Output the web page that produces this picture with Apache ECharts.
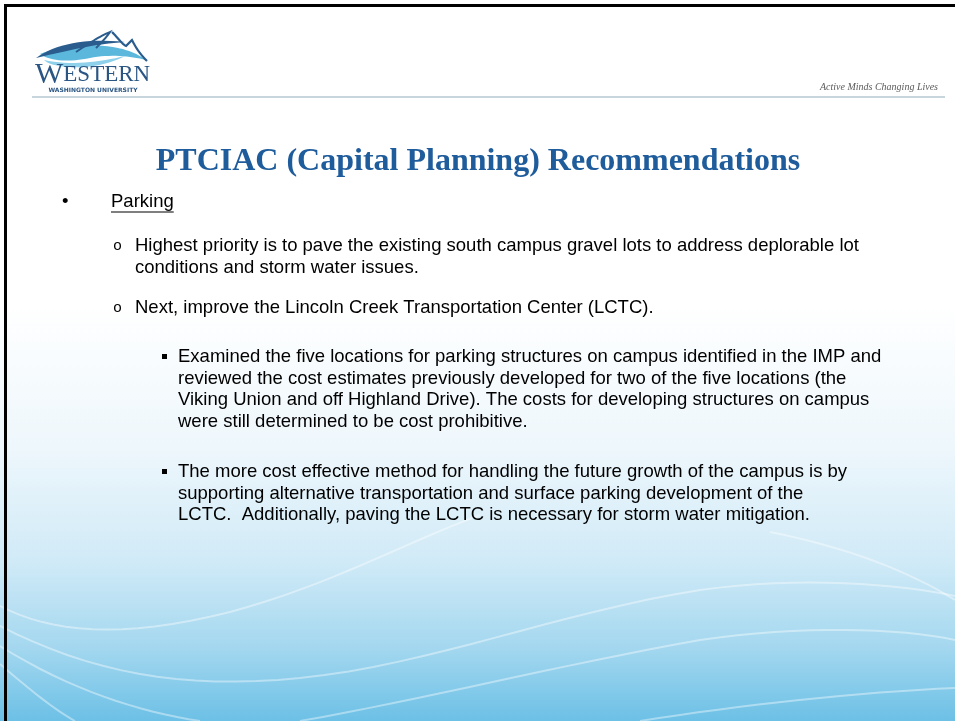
<!DOCTYPE html>
<html>
<head>
<meta charset="utf-8">
<script src="https://cdn.jsdelivr.net/npm/echarts@6/dist/echarts.min.js"></script>
<style>
html,body{margin:0;padding:0;background:#fff;}
#main{width:955px;height:721px;}
</style>
</head>
<body>
<div id="main"></div>
<script>
// ---- content ----
const logoWord = ['W', 'ESTERN'];
const logoSub = 'WASHINGTON UNIVERSITY';
const tagline = 'Active Minds Changing Lives';
const titleText = 'PTCIAC (Capital Planning) Recommendations';
const level1Items = ['Parking'];
const level2Items = [
  ['Highest priority is to pave the existing south campus gravel lots to address deplorable lot',
   'conditions and storm water issues.'],
  ['Next, improve the Lincoln Creek Transportation Center (LCTC).']
];
const level3Items = [
  ['Examined the five locations for parking structures on campus identified in the IMP and',
   'reviewed the cost estimates previously developed for two of the five locations (the',
   'Viking Union and off Highland Drive). The costs for developing structures on campus',
   'were still determined to be cost prohibitive.'],
  ['The more cost effective method for handling the future growth of the campus is by',
   'supporting alternative transportation and surface parking development of the',
   'LCTC.  Additionally, paving the LCTC is necessary for storm water mitigation.']
];

// ---- layout / style ----
const W = 955, H = 721;
const bodyFont = '18.5px "Liberation Sans", Arial, sans-serif';
const lineH = 21.5;
const els = [];

// sample a simple "M x y C ... " path into points
function samplePath(str, dx, dy) {
  dx = dx || 0; dy = dy || 0;
  const nums = str.replace(/[MCZ]/g, ' ').trim().split(/[\s,]+/).map(Number);
  const pts = [[nums[0] + dx, nums[1] + dy]];
  let cx = nums[0], cy = nums[1];
  for (let k = 2; k + 5 < nums.length; k += 6) {
    const [a, b, c, d, e, f] = nums.slice(k, k + 6);
    for (let s = 1; s <= 16; s++) {
      const t = s / 16, u = 1 - t;
      pts.push([u*u*u*cx + 3*u*u*t*a + 3*u*t*t*c + t*t*t*e + dx,
                u*u*u*cy + 3*u*u*t*b + 3*u*t*t*d + t*t*t*f + dy]);
    }
    cx = e; cy = f;
  }
  return pts;
}
function textWidth(t, font) {
  const c = document.createElement('canvas').getContext('2d');
  c.font = font; return c.measureText(t).width;
}

// background
els.push({type:'rect', shape:{x:0,y:0,width:W,height:H}, z:0,
  style:{fill:new echarts.graphic.LinearGradient(0,0,0,1,[
    {offset:0,color:'#ffffff'},
    {offset:0.42,color:'#ffffff'},
    {offset:0.62,color:'#eef7fc'},
    {offset:0.78,color:'#d0eaf7'},
    {offset:0.90,color:'#a3d7ef'},
    {offset:1,color:'#6cc0e6'}])}});

// waves
const waves = [
  'M0 606 C 50 632, 120 640, 230 612 C 330 585, 400 545, 480 515',
  'M770 532 C 850 548, 910 572, 955 600',
  'M0 626 C 90 672, 180 690, 300 678 C 430 665, 560 612, 700 590 C 800 576, 900 584, 955 596',
  'M0 646 C 70 690, 140 712, 200 721',
  'M0 664 C 30 690, 55 710, 75 721',
  'M640 721 C 740 705, 860 692, 955 688',
  'M300 721 C 420 700, 560 665, 700 640 C 800 625, 900 628, 955 640'
];
waves.forEach(p => els.push({type:'polyline', z:1, shape:{points:samplePath(p)},
  style:{fill:null, stroke:'rgba(255,255,255,0.4)', lineWidth:2}}));

// frame
els.push({type:'line', z:5, shape:{x1:4,y1:5.5,x2:W,y2:5.5}, style:{stroke:'#000',lineWidth:3}});
els.push({type:'line', z:5, shape:{x1:5.5,y1:4,x2:5.5,y2:H}, style:{stroke:'#000',lineWidth:3}});

// header rule
els.push({type:'line', z:3, shape:{x1:32,y1:97,x2:945,y2:97},
  style:{stroke:'#c8d5dd', lineWidth:2}});

// logo graphics (shifted down)
const ldy = 4;
els.push({type:'polygon', z:3, shape:{points:samplePath('M40 50 C 60 42, 90 38, 118 44 C 128 46, 138 50, 146 56 C 130 52, 110 50, 90 54 C 70 58, 52 58, 40 50', 0, ldy)},
  style:{fill:'#5bb8dc'}});
els.push({type:'polygon', z:3, shape:{points:samplePath('M44 56 C 70 62, 100 58, 125 52 C 110 60, 85 66, 60 62 C 52 61, 47 59, 44 56', 0, ldy)},
  style:{fill:'#8fd0ea'}});
els.push({type:'polygon', z:4, shape:{points:samplePath('M36 54 C 55 40, 85 34, 125 38 C 95 40, 70 46, 36 54', 0, ldy)},
  style:{fill:'#2a5d8e'}});
els.push({type:'polyline', z:4, shape:{points:samplePath('M76 48 C 88 40, 100 32, 110 28 C 106 34, 100 40, 96 44', 0, ldy)},
  style:{fill:null, stroke:'#2a5d8e', lineWidth:2}});
els.push({type:'polyline', z:4, shape:{points:samplePath('M112 28 C 118 34, 122 40, 126 42 C 128 40, 130 38, 132 36 C 136 44, 140 50, 147 57', 0, ldy)},
  style:{fill:null, stroke:'#2a5d8e', lineWidth:2.2}});

els.push({type:'text', z:4, style:{
  text:'{a|' + logoWord[0] + '}{b|' + logoWord[1] + '}',
  x:35, y:90, textAlign:'left', textVerticalAlign:'bottom',
  rich:{a:{font:'30px "Liberation Serif", serif', fill:'#2b5684'},
        b:{font:'23px "Liberation Serif", serif', fill:'#2b5684'}}}});
els.push({type:'text', z:4, style:{text:logoSub, x:93, y:90, textAlign:'center', textVerticalAlign:'middle',
  font:'bold 6px "DejaVu Sans", sans-serif', fill:'#2b5684'}});

// tagline
els.push({type:'text', z:4, style:{text:tagline, x:938, y:87, textAlign:'right', textVerticalAlign:'middle',
  font:'italic 10px "Liberation Serif", serif', fill:'#5a5a5a'}});

// title
els.push({type:'text', z:4, style:{text:titleText, x:478, y:162, textAlign:'center', textVerticalAlign:'middle',
  font:'bold 32px "Liberation Serif", "Times New Roman", serif', fill:'#1f5c9b'}});

// level 1
const l1Y = [202];
level1Items.forEach((t,i) => {
  els.push({type:'text', z:4, style:{text:'\u2022', x:62, y:l1Y[i], textAlign:'left', textVerticalAlign:'middle', font:bodyFont, fill:'#000'}});
  els.push({type:'text', z:4, style:{text:t, x:111, y:l1Y[i], textAlign:'left', textVerticalAlign:'middle', font:bodyFont, fill:'#000'}});
  const wpx = textWidth(t, bodyFont);
  els.push({type:'line', z:4, shape:{x1:111,y1:l1Y[i]+10,x2:111+wpx,y2:l1Y[i]+10}, style:{stroke:'#000',lineWidth:1.2}});
});

// level 2
const l2Y = [246, 308];
level2Items.forEach((lines,i) => {
  els.push({type:'text', z:4, style:{text:'o', x:113, y:l2Y[i], textAlign:'left', textVerticalAlign:'middle', font:'15px "Liberation Mono", "Courier New", monospace', fill:'#000'}});
  lines.forEach((t,j) => els.push({type:'text', z:4, style:{text:t, x:135, y:l2Y[i]+j*lineH, textAlign:'left', textVerticalAlign:'middle', font:bodyFont, fill:'#000'}}));
});

// level 3
const l3Y = [357, 472];
level3Items.forEach((lines,i) => {
  els.push({type:'rect', z:4, shape:{x:162,y:l3Y[i]-3,width:5,height:5}, style:{fill:'#000'}});
  lines.forEach((t,j) => els.push({type:'text', z:4, style:{text:t, x:178, y:l3Y[i]+j*lineH, textAlign:'left', textVerticalAlign:'middle', font:bodyFont, fill:'#000'}}));
});

const chart = echarts.init(document.getElementById('main'), null, {renderer:'canvas', width:W, height:H});
chart.setOption({animation:false, graphic:{elements:els}});
</script>
</body>
</html>
